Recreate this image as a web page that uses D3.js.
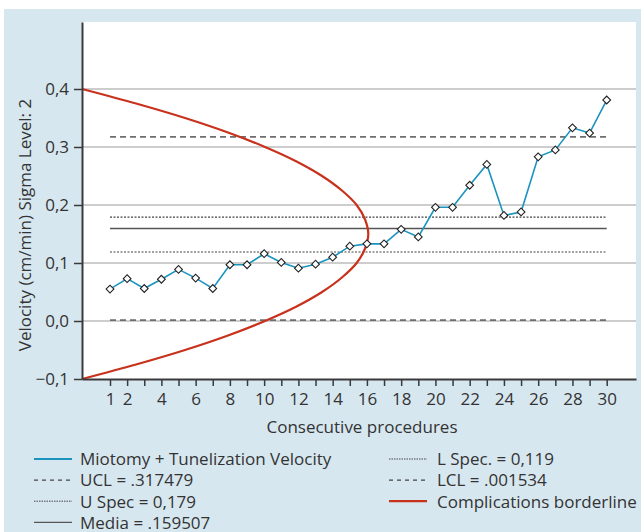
<!DOCTYPE html>
<html>
<head>
<meta charset="utf-8">
<script src="https://cdn.jsdelivr.net/npm/d3@7"></script>
<style>
  html, body { margin: 0; padding: 0; background: #ffffff; }
  svg { display: block; }
  text { font-family: "Open Sans", Lato, sans-serif; fill: #333333; }
</style>
</head>
<body>
<svg id="chart" width="641" height="532"></svg>
<script>
// ---------- data ----------
const procedures = [1,2,3,4,5,6,7,8,9,10,11,12,13,14,15,16,17,18,19,20,21,22,23,24,25,26,27,28,29,30];
const velocity = [0.055,0.073,0.056,0.072,0.089,0.074,0.056,0.097,0.097,0.116,
                  0.101,0.091,0.098,0.110,0.129,0.133,0.133,0.158,0.145,0.196,
                  0.196,0.234,0.270,0.182,0.188,0.283,0.295,0.333,0.324,0.381];
const xTickLabels = [1,2,4,6,8,10,12,14,16,18,20,22,24,26,28,30];
const yTickValues = [-0.1,0.0,0.1,0.2,0.3,0.4];
const refNames = ["UCL","U Spec","Media","L Spec","LCL"];
const refValues = [0.317479,0.179,0.159507,0.119,0.001534];
// complications borderline: velocity value, procedure position
const borderY = [0.4,0.375,0.35,0.325,0.3,0.275,0.25,0.225,0.2,0.175,0.15,0.125,0.1,0.075,0.05,0.025,0.0,-0.025,-0.05,-0.075,-0.1];
const borderX = [-0.63,2.52,5.38,7.89,10.05,11.89,13.38,14.54,15.40,15.89,16.08,15.89,15.40,14.54,13.38,11.89,10.05,7.89,5.38,2.52,-0.63];
const legendLabels = ["Miotomy + Tunelization Velocity","UCL = .317479","U Spec = 0,179","Media = .159507",
                      "L Spec. = 0,119","LCL = .001534","Complications borderline"];

// ---------- layout ----------
const svg = d3.select("#chart");
const L = 82, R = 636, T = 22, B = 379;
const FONT = 17;
svg.append("rect").attr("x",4).attr("y",9).attr("width",637).attr("height",523).attr("fill","#d7e7f0");
svg.append("rect").attr("x",L).attr("y",T).attr("width",R-L).attr("height",B-T).attr("fill","#ffffff");

const x = d3.scaleLinear().domain([-0.635, 31.71]).range([L, R]);
const y = d3.scaleLinear().domain([-0.1, 0.5155]).range([B, T]);

const fmt = d => d3.format(".1f")(d).replace(".", ",").replace("-", "\u2013");

// grid
svg.append("g").selectAll("line").data(yTickValues.filter(v => v > -0.1))
  .join("line")
  .attr("x1", L).attr("x2", R)
  .attr("y1", d => y(d)).attr("y2", d => y(d))
  .attr("stroke", "#bdbdbd").attr("stroke-width", 1.3);

// reference lines
const refStyle = {
  "UCL":   {stroke:"#6e6e6e", width:1.6, dash:"6,4"},
  "U Spec":{stroke:"#444444", width:1.2, dash:"2,1.5"},
  "Media": {stroke:"#555555", width:1.5, dash:null},
  "L Spec":{stroke:"#444444", width:1.2, dash:"2,1.5"},
  "LCL":   {stroke:"#6e6e6e", width:1.6, dash:"6,4"}
};
refNames.forEach((n, i) => {
  const s = refStyle[n];
  svg.append("line")
    .attr("x1", x(procedures[0])).attr("x2", x(procedures[procedures.length-1]))
    .attr("y1", y(refValues[i])).attr("y2", y(refValues[i]))
    .attr("stroke", s.stroke).attr("stroke-width", s.width)
    .attr("stroke-dasharray", s.dash);
});

// red borderline
const borderPts = borderY.map((v, i) => [borderX[i], v]);
svg.append("path")
  .datum(borderPts)
  .attr("d", d3.line().x(d => x(d[0])).y(d => y(d[1])).curve(d3.curveCatmullRom))
  .attr("fill", "none").attr("stroke", "#c8321c").attr("stroke-width", 2.2);

// series
const pts = procedures.map((p, i) => [p, velocity[i]]);
svg.append("path")
  .datum(pts)
  .attr("d", d3.line().x(d => x(d[0])).y(d => y(d[1])))
  .attr("fill", "none").attr("stroke", "#1b93bf").attr("stroke-width", 1.6);
svg.append("g").selectAll("path").data(pts).join("path")
  .attr("d", d3.symbol(d3.symbolSquare, 30))
  .attr("transform", d => `translate(${x(d[0])},${y(d[1])}) rotate(45)`)
  .attr("fill", "#ffffff").attr("stroke", "#222222").attr("stroke-width", 1.1);

// axes
const yAxis = svg.append("g").attr("transform", `translate(${L},0)`)
  .call(d3.axisLeft(y).tickValues(yTickValues).tickFormat(fmt).tickSizeOuter(0).tickSizeInner(8).tickPadding(5));
const xAxis = svg.append("g").attr("transform", `translate(0,${B})`)
  .call(d3.axisBottom(x).tickValues(procedures).tickFormat(d => xTickLabels.includes(d) ? d : "").tickSizeOuter(0).tickSizeInner(7).tickPadding(7));
[yAxis, xAxis].forEach(a => {
  a.select(".domain").attr("stroke", "#3a3a3a").attr("stroke-width", 2);
  a.selectAll(".tick line").attr("stroke", "#3a3a3a").attr("stroke-width", 1.5);
  a.selectAll(".tick text").attr("font-size", FONT).attr("fill", "#333").attr("font-family", "'Open Sans', sans-serif");
});

// axis titles
svg.append("text").attr("x", (L + R) / 2 + 3).attr("y", 433).attr("text-anchor", "middle")
  .attr("font-size", FONT).text("Consecutive procedures");
svg.append("text").attr("transform", `translate(30.5,225) rotate(-90)`)
  .attr("text-anchor", "middle").attr("font-size", FONT).text("Velocity (cm/min) Sigma Level: 2");

// legend
const legendStyle = [
  {stroke:"#1b93bf", width:2, dash:null},
  {stroke:"#444444", width:1.2, dash:"4,4"},
  {stroke:"#444444", width:1, dash:"1.5,1"},
  {stroke:"#555555", width:1.3, dash:null},
  {stroke:"#444444", width:1, dash:"1.5,1"},
  {stroke:"#444444", width:1.2, dash:"4,4"},
  {stroke:"#c8321c", width:2.2, dash:null}
];
const legendPos = [[34,80,0],[34,80,1],[34,80,2],[34,80,3],[389,437,0],[389,437,1],[389,437,2]];
legendLabels.forEach((lab, i) => {
  const [lx, tx, row] = legendPos[i];
  const ly = 459 + row * 21.1;
  const s = legendStyle[i];
  svg.append("line").attr("x1", lx).attr("x2", lx + 38).attr("y1", ly).attr("y2", ly)
    .attr("stroke", s.stroke).attr("stroke-width", s.width).attr("stroke-dasharray", s.dash);
  svg.append("text").attr("x", tx).attr("y", ly + 6.3).attr("font-size", FONT).text(lab);
});
</script>
</body>
</html>
